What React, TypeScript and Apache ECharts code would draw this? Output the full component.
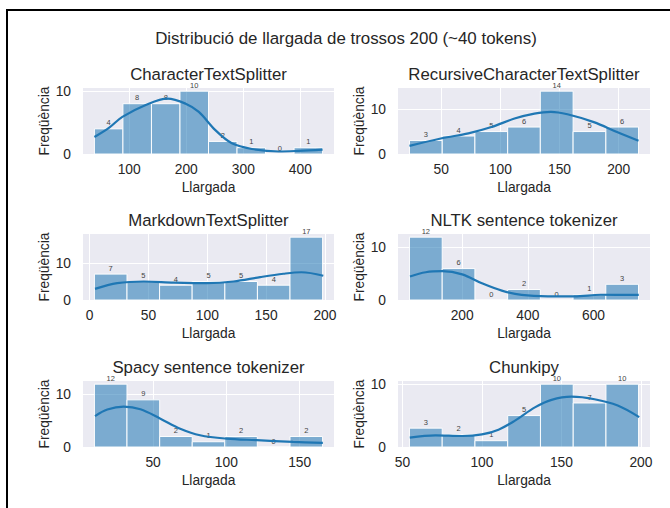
import React, { useEffect, useRef } from "react";
import * as echarts from "echarts";

const FONT = '"Liberation Sans", Arial, Helvetica, sans-serif';
const TEXT = "#262626";

const suptitle = "Distribució de llargada de trossos 200 (~40 tokens)";
const panelTitles = [
  "CharacterTextSplitter",
  "RecursiveCharacterTextSplitter",
  "MarkdownTextSplitter",
  "NLTK sentence tokenizer",
  "Spacy sentence tokenizer",
  "Chunkipy",
];

// bin edges and counts
const edges1 = [39, 89, 139, 189, 239, 289, 339, 389, 439];
const counts1 = [4, 8, 8, 10, 2, 1, 0, 1];
const edges2 = [23.2, 50.9, 78.5, 106.2, 133.8, 161.5, 189.2, 216.8];
const counts2 = [3, 4, 5, 6, 14, 5, 6];
const edges3 = [4, 31.7, 59.4, 87.1, 114.9, 142.6, 170.3, 198];
const counts3 = [7, 5, 4, 5, 5, 4, 17];
const edges4 = [39.4, 139.1, 238.7, 338.4, 438.0, 537.7, 637.4, 737];
const counts4 = [12, 6, 0, 2, 0, 1, 3];
const edges5 = [10, 32.2, 54.5, 76.7, 98.9, 121.1, 143.4, 165.6];
const counts5 = [12, 9, 2, 1, 2, 0, 2];
const edges6 = [54.4, 75.0, 95.6, 116.2, 136.8, 157.4, 178.0, 198.5];
const counts6 = [3, 2, 1, 5, 10, 7, 10];

// KDE curves [x, y]
const kde1 = [[39, 2.7], [65, 4.2], [88, 5.9], [129, 7.8], [167, 8.8], [199, 8.0], [222, 6.7], [251, 3.8], [280, 1.7], [315, 0.8], [362, 0.4], [397, 0.5], [439, 0.7]];
const kde2 = [[23.2, 1.8], [50.5, 3.5], [73, 4.6], [92.5, 6.0], [112, 7.9], [128.8, 9.0], [142.8, 9.4], [156.7, 8.85], [179, 7.1], [198.6, 4.9], [216.8, 2.95]];
const kde3 = [[4.5, 3.0], [23.4, 4.55], [46, 5.0], [71.5, 4.7], [99.7, 4.55], [122.3, 5.0], [145, 6.2], [164.7, 7.1], [180, 7.5], [198.6, 6.55]];
const kde4 = [[41, 4.5], [89, 5.3], [139.6, 5.5], [200, 4.9], [260, 3.2], [320.5, 1.8], [380.8, 0.97], [461, 0.7], [541.6, 0.7], [622, 1.0], [737.8, 0.97]];
const kde5 = [[10.4, 5.9], [18.8, 7.15], [30, 7.7], [41.4, 7.2], [55, 5.4], [68.5, 3.5], [82, 2.25], [100, 1.6], [120.6, 1.3], [145.5, 0.96], [165.8, 0.77]];
const kde6 = [[54.6, 1.5], [70.8, 1.85], [87.5, 1.75], [100, 2.0], [110.4, 2.75], [120.8, 4.2], [133.3, 6.3], [143.8, 7.5], [156.3, 8.0], [170.8, 7.6], [185.4, 6.6], [198.9, 4.75]];

// axis limits and tick labels
const xMin = [19, 13.5, -5.7, 4.5, 2.2, 47.2];
const xMax = [459, 226.5, 207.7, 772, 173.4, 205.7];
const yMax = [10.5, 14.7, 17.85, 12.6, 12.6, 10.5];
const xTicks = [
  [100, 200, 300, 400],
  [50, 100, 150, 200],
  [0, 50, 100, 150, 200],
  [200, 400, 600],
  [50, 100, 150],
  [50, 100, 150, 200],
];
const yTicks = [0, 10];

const allEdges = [edges1, edges2, edges3, edges4, edges5, edges6];
const allCounts = [counts1, counts2, counts3, counts4, counts5, counts6];
const allKde = [kde1, kde2, kde3, kde4, kde5, kde6];

const colLeft = [83, 398];
const colWidth = [251, 252];
const rowTop = [88, 234, 381];
const rowHeight = 66;

export default function App() {
  const ref = useRef<HTMLDivElement>(null);
  useEffect(() => {
    if (!ref.current) return;
    const chart = echarts.init(ref.current, null, { renderer: "svg" });
    const grids: any[] = [];
    const xAxes: any[] = [];
    const yAxes: any[] = [];
    const series: any[] = [];
    const graphics: any[] = [];

    graphics.push({
      type: "rect",
      shape: { x: 7, y: 10, width: 720, height: 600 },
      style: { fill: "none", stroke: "#000", lineWidth: 2 },
      silent: true,
    });
    graphics.push({
      type: "text",
      x: 346,
      y: 38,
      style: { text: suptitle, fontSize: 16.9, fontFamily: FONT, fill: TEXT, align: "center", verticalAlign: "middle" },
    });

    for (let i = 0; i < 6; i++) {
      const c = i % 2;
      const r = Math.floor(i / 2);
      grids.push({
        left: colLeft[c],
        top: rowTop[r],
        width: colWidth[c],
        height: rowHeight,
        show: true,
        backgroundColor: "#EAEAF2",
        borderWidth: 0,
        containLabel: false,
      });
      graphics.push({
        type: "text",
        x: colLeft[c] + colWidth[c] / 2,
        y: rowTop[r] - 14,
        style: { text: panelTitles[i], fontSize: 16.8, fontFamily: FONT, fill: TEXT, align: "center", verticalAlign: "middle" },
      });
      xAxes.push({
        type: "value",
        gridIndex: i,
        min: xMin[i],
        max: xMax[i],
        name: "Llargada",
        nameLocation: "middle",
        nameGap: 26,
        nameTextStyle: { fontSize: 13.8, fontFamily: FONT, color: TEXT },
        axisLine: { show: false },
        axisTick: { show: false, customValues: xTicks[i] },
        axisLabel: { customValues: xTicks[i], fontSize: 13.8, fontFamily: FONT, color: TEXT, margin: 8 },
        splitLine: { show: true, lineStyle: { color: "#ffffff", width: 1 } },
      });
      yAxes.push({
        type: "value",
        gridIndex: i,
        min: 0,
        max: yMax[i],
        name: "Freqüència",
        nameLocation: "middle",
        nameGap: 28,
        nameTextStyle: { fontSize: 13.8, fontFamily: FONT, color: TEXT },
        axisLine: { show: false },
        axisTick: { show: false, customValues: yTicks },
        axisLabel: { customValues: yTicks, fontSize: 13.8, fontFamily: FONT, color: TEXT, margin: 12 },
        splitLine: { show: true, lineStyle: { color: "#ffffff", width: 1 } },
      });
      const edges = allEdges[i];
      const counts = allCounts[i];
      const barData = counts.map((v, k) => [edges[k], edges[k + 1], v]);
      series.push({
        type: "custom",
        xAxisIndex: i,
        yAxisIndex: i,
        z: 2,
        encode: { x: [0, 1], y: 2 },
        data: barData,
        renderItem: (params: any, api: any) => {
          const p0 = api.coord([api.value(0), 0]);
          const p1 = api.coord([api.value(1), api.value(2)]);
          return {
            type: "group",
            children: [
              {
                type: "rect",
                shape: { x: p0[0], y: p1[1], width: p1[0] - p0[0], height: p0[1] - p1[1] },
                style: { fill: "rgba(31,119,180,0.55)", stroke: "rgba(255,255,255,0.95)", lineWidth: 1 },
              },
              {
                type: "text",
                x: (p0[0] + p1[0]) / 2,
                y: p1[1] - 2,
                style: {
                  text: String(api.value(2)),
                  fontSize: 7.5,
                  fontFamily: FONT,
                  fill: "#444444",
                  align: "center",
                  verticalAlign: "bottom",
                },
              },
            ],
          };
        },
      });
      series.push({
        type: "line",
        xAxisIndex: i,
        yAxisIndex: i,
        z: 3,
        data: allKde[i],
        smooth: 0.35,
        showSymbol: false,
        symbol: "none",
        lineStyle: { color: "#1f77b4", width: 2.2 },
      });
    }

    chart.setOption({
      animation: false,
      backgroundColor: "#ffffff",
      textStyle: { fontFamily: FONT },
      grid: grids,
      xAxis: xAxes,
      yAxis: yAxes,
      series,
      graphic: graphics,
    });
    return () => chart.dispose();
  }, []);
  return <div ref={ref} style={{ position: "absolute", left: 0, top: 0, width: 670, height: 508 }} />;
}
